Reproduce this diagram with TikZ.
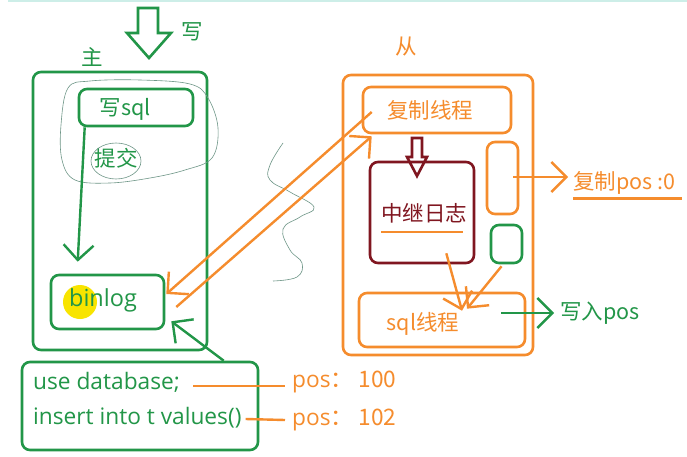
\documentclass[tikz,border=0pt]{standalone}
\usepackage{fontspec}
\setmainfont{Open Sans}
\newfontfamily\cjk{Noto Sans CJK SC}
\usetikzlibrary{arrows.meta,calc}
\definecolor{gr}{RGB}{34,150,72}
\definecolor{og}{RGB}{245,140,45}
\definecolor{dr}{RGB}{128,22,32}
\definecolor{sq}{RGB}{110,150,135}
\definecolor{yl}{RGB}{248,228,0}
\definecolor{tl}{RGB}{205,238,232}
\begin{document}
\begin{tikzpicture}[x=1pt,y=-1pt,
  box/.style={draw,rounded corners=8pt,line width=2.6pt,inner sep=0pt},
  lbl/.style={inner sep=0pt,font=\fontsize{21.5}{24}\selectfont},
  lat/.style={inner sep=0pt,font=\fontsize{22.7}{26}\selectfont},
  barb/.style={line width=2.4pt,-{Straight Barb[length=15pt,width=30pt,line width=2.4pt]}},
  hollow/.style={line width=2.6pt,line join=miter}]
\useasboundingbox (0,0) rectangle (687,457);
\fill[white] (0,0) rectangle (687,457);
\draw[tl,line width=1.5pt] (8,1) -- (687,1);

% ---------- master ----------
\node[box,gr,minimum width=174pt,minimum height=278pt] (master) at (120,211) {};
\node[lbl,gr] (zhu) at (92,57) {\cjk 主};
\node[lbl,gr] (xie) at (192,32) {\cjk 写};
\draw[hollow,gr] (138,8) -- (158,8) -- (158,33) -- (171,33) -- (149,58) -- (127,33) -- (138,33) -- cycle;

\draw[sq,line width=0.6pt] plot[smooth cycle,tension=0.6] coordinates
  {(68,88) (90,81) (140,80) (190,84) (208,98) (218,128) (212,158) (185,170) (150,178) (110,183) (75,180) (62,160) (61,125)};
\node[box,gr,minimum width=114pt,minimum height=37pt] (sqlw) at (136,107.5) {};
\node[lbl,gr] (sqlwt) at (125,109) {\cjk 写sql};
\node[lbl,gr] (tj) at (116,158) {\cjk 提交};
\draw[sq,line width=0.6pt] (116,161) ellipse [x radius=25, y radius=18];

\fill[yl] (80,302) circle [radius=17];
\node[box,gr,minimum width=113pt,minimum height=54pt] (binlog) at (107.5,302) {};
\node[lat,gr,font=\fontsize{23.5}{26}\selectfont] (binlogt) at (103,300) {binlog};

\draw[barb,gr] ($(sqlw.south west)+(7,0)$) -- ($(binlog.north west)+(28,-12)$);

% ---------- bottom statements ----------
\node[box,gr,minimum width=236pt,minimum height=88pt] (stmt) at (140,406) {};
\node[lat,gr,anchor=west] (use) at (33,382) {use database;};
\node[lat,gr,anchor=west] (ins) at (33,418) {insert into t values()};
\node[lat,og,anchor=west] (p1) at (292,382) {pos\cjk ：\ 100};
\node[lat,og,anchor=west] (p2) at (292,420) {pos\cjk ：\ 102};
\draw[og,line width=2.4pt] ($(use.east)+(13,4)$) -- ($(p1.west)+(-7,4)$);
\draw[og,line width=2.4pt] ($(ins.east)+(4,1)$) -- ($(p2.west)+(-7,0)$);
\draw[barb,gr] ($(stmt.north west)+(203,0)$) -- ($(binlog.south east)+(6,-9)$);

% ---------- squiggle ----------
\draw[sq,line width=0.6pt] plot[smooth,tension=0.7] coordinates
  {(283,143) (270,165) (270,180) (290,192) (314,207) (300,217) (283,229) (290,250) (302,263) (297,277) (273,281)};

% ---------- slave ----------
\node[lbl,og] (cong) at (406,47) {\cjk 从};
\node[box,og,minimum width=190pt,minimum height=280pt] (slave) at (438,215) {};
\node[box,og,minimum width=148pt,minimum height=46pt] (copy) at (437,110) {};
\node[lbl,og] (copyt) at (430,110) {\cjk 复制线程};
\draw[hollow,dr] (412,138) -- (422,138) -- (422,157) -- (427,157) -- (417,176) -- (407,157) -- (412,157) -- cycle;
\node[box,dr,minimum width=104pt,minimum height=101pt] (relay) at (422,212.5) {};
\node[lbl,dr] (relayt) at (424,213) {\cjk 中继日志};
\draw[og,line width=2.4pt] (381,232) -- (463,232);
\node[box,og,minimum width=31pt,minimum height=72pt] (posbox) at (502.5,178) {};
\node[box,gr,minimum width=31pt,minimum height=38pt] (gbox) at (506.5,244) {};
\node[box,og,minimum width=166pt,minimum height=54pt] (sqlt) at (442,320) {};
\node[lbl,og] (sqltt) at (423,324) {\cjk sql线程};

\node[lbl,og,anchor=west] (pos0) at (573,183) {\cjk 复制pos :0};
\draw[og,line width=2.4pt] ($(pos0.south west)+(0,4)$) -- ($(pos0.south east)+(6,4)$);
\draw[barb,og] ($(posbox.east)+(-6,-1)$) -- ($(pos0.west)+(-5,-6)$);

\node[lbl,gr,anchor=west] (wr) at (560,313) {\cjk 写入pos};
\draw[barb,gr] ($(sqlt.east)+(-25,-7)$) -- ($(wr.west)+(-6,0)$);

\draw[barb,og] ($(relay.south east)+(-29,-11)$) -- ($(sqlt.north)+(20,19)$);
\draw[barb,og] ($(gbox.south)+(-5,2)$) -- ($(sqlt.north)+(25,17)$);

% ---------- replication ----------
\draw[barb,og] ($(copy.west)+(10,2)$) -- ($(binlog.east)+(1,-8)$);
\draw[barb,og] ($(binlog.east)+(11,5)$) -- ($(copy.south west)+(10,2)$);
\end{tikzpicture}
\end{document}
